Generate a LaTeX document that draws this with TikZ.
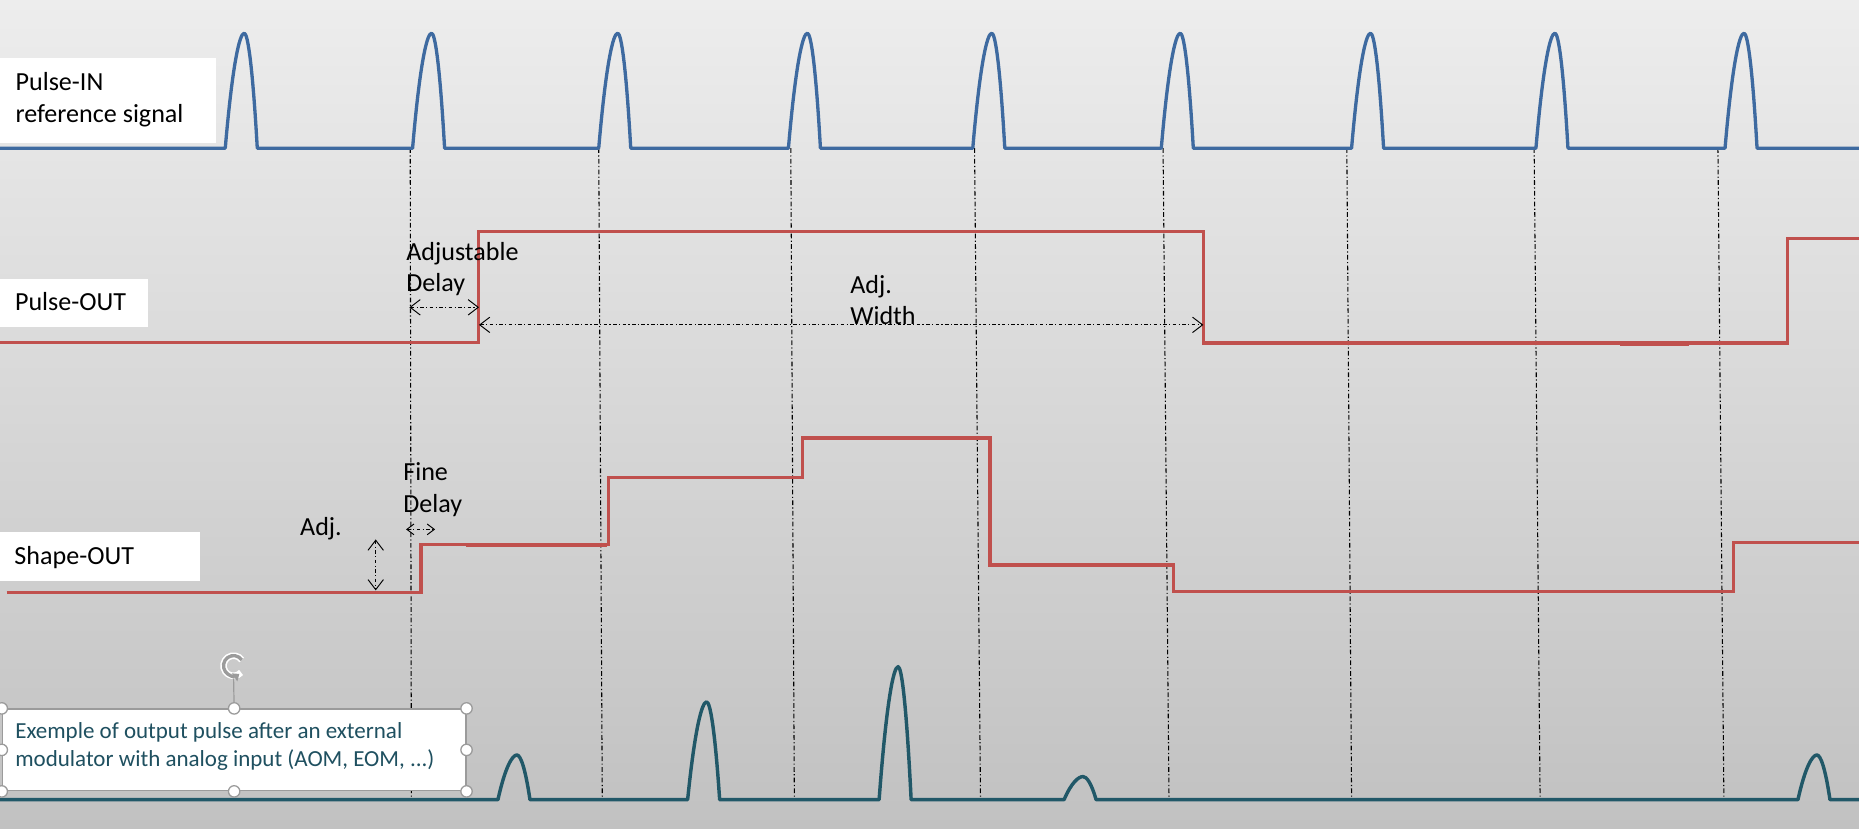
\documentclass[tikz,border=0pt]{standalone}
\usepackage{fontspec}
\setmainfont{Carlito}
\usetikzlibrary{arrows.meta}
\definecolor{bgtop}{RGB}{237,237,237}
\definecolor{bgbot}{RGB}{193,193,193}
\definecolor{sigblue}{RGB}{62,106,160}
\definecolor{sigred}{RGB}{192,80,77}
\definecolor{sigteal}{RGB}{33,88,104}
\definecolor{noteteal}{RGB}{31,80,96}
\definecolor{hgray}{RGB}{155,155,155}
\newcommand\twoln[2]{\begin{tabular}[t]{@{}l@{}}#1\\#2\end{tabular}}
\begin{document}
\begin{tikzpicture}[x=1pt,y=-1pt,
  lbl/.style={font=\fontsize{22}{26.5}\selectfont, inner sep=0pt, anchor=base west, text=black},
  notelbl/.style={font=\fontsize{19.4}{24}\selectfont, inner sep=0pt, anchor=base west, text=noteteal},
  guide/.style={black, line width=0.9pt, dash pattern=on 4pt off 2pt on 1pt off 2pt},
  dimarrow/.style={black, line width=0.8pt, dash pattern=on 3pt off 2pt on 1pt off 2pt,
     {Straight Barb[length=8.5pt,width=13pt]}-{Straight Barb[length=8.5pt,width=13pt]}},
  smallarrow/.style={black, line width=0.8pt, dash pattern=on 3pt off 2pt on 1pt off 2pt,
     {Straight Barb[length=6pt,width=9pt]}-{Straight Barb[length=6pt,width=9pt]}},
  sigin/.style={sigblue, line width=2.8pt, line join=round},
  sigout/.style={sigred, line width=2.8pt, line join=miter},
  sigmod/.style={sigteal, line width=2.9pt, line join=round},
  handle/.style={fill=white, draw=hgray, line width=1.1pt},
]
\useasboundingbox (0,0) rectangle (1568,699);
\shade[top color=bgtop, bottom color=bgbot] (0,0) rectangle (1568,699);

% guide lines
\foreach \a/\b in {346/347, 505/508, 667/670, 822/827, 981/986, 1136/1140, 1294/1299, 1449/1454}
  \draw[guide] (\a,125) -- (\b,672);

% label boxes
\fill[white] (0,49) rectangle (182,121);
\fill[white] (0,235.5) rectangle (125,275.5);
\fill[white] (0,449) rectangle (168.5,490);

\node[lbl] (inlabel) at (13,76.5) {\twoln{Pulse-IN}{reference signal}};
\node[lbl] (outlabel) at (12.5,262.3) {Pulse-OUT};
\node[lbl] (shapelabel) at (12,476.5) {Shape-OUT};

% Pulse-IN signal
\draw[sigin] (0,125)
  \foreach \s in {190,348,505,665,820.5,979.5,1140,1295.5,1455} {
    -- (\s,125) .. controls ({\s+6},55) and ({\s+12},28) .. ({\s+16},28)
    .. controls ({\s+19},28) and ({\s+23},55) .. ({\s+27},125) }
  -- (1568,125);

% Pulse-OUT signal
\draw[sigout] (0,289) -- (403.5,289) -- (403.5,195) -- (1015,195) -- (1015,289.3)
  -- (1507.5,289.3) -- (1507.5,201) -- (1568,201);
\draw[sigred, line width=2.8pt] (1366,290.2) -- (1425,290.2);

% Shape-OUT signal
\draw[sigout] (5.5,500) -- (355,500) -- (355,459.5) -- (513,459.5) -- (513,403)
  -- (677,403) -- (677,369.5) -- (835,369.5) -- (835,476.5) -- (990,476.5)
  -- (990,499) -- (1462,499) -- (1462,457.4) -- (1568,457.4);
\draw[sigred, line width=2.8pt] (393,460.2) -- (512,460.2);

% modulated output
\draw[sigmod] (0,674.5)
  \foreach \s/\p in {420/636.8, 580/592, 741.5/562.3, 897.5/655, 1516.5/636.8} {
    -- (\s,674.5) .. controls ({\s+6},{674.5-0.72*(674.5-\p)}) and ({\s+12},\p) .. ({\s+16},\p)
    .. controls ({\s+19},\p) and ({\s+23},{674.5-0.72*(674.5-\p)}) .. ({\s+27},674.5) }
  -- (1568,674.5);

% dimension texts and arrows
\node[lbl] (adjdelay) at (342.5,219.3) {\twoln{Adjustable}{Delay}};
\node[lbl] (adjwidth) at (717,247.4) {\twoln{Adj.}{Width}};
\node[lbl] (finedelay) at (340,405.4) {\twoln{Fine}{Delay}};
\node[lbl] (adjamp) at (253,452) {Adj.};

\coordinate (ad1) at (345.3,259.2);
\coordinate (ad2) at (404,259.2);
\coordinate (aw1) at (404,274);
\coordinate (aw2) at (1015,274);
\coordinate (fd1) at (342.5,446.5);
\coordinate (fd2) at (367,446.5);
\coordinate (am1) at (316.9,455);
\coordinate (am2) at (316.9,498);
\draw[dimarrow] (ad1) -- (ad2);
\draw[dimarrow] (aw1) -- (aw2);
\draw[smallarrow] (fd1) -- (fd2);
\draw[dimarrow] (am1) -- (am2);

% note box with selection handles
\node[draw=hgray, line width=1pt, fill=white, minimum width=391pt, minimum height=69pt,
  anchor=north west, inner sep=0pt] (notebox) at (1.5,597.5) {};
\node[notelbl] (note) at (12.7,622.5) {\twoln{Exemple of output pulse after an external}{modulator with analog input (AOM, EOM, ...)}};
\coordinate (rotc) at (197,561.5);
\draw[hgray, line width=1pt] (197,571) -- (notebox.north);
\draw[white, line width=5.5pt] (rotc) ++(-35:8.5) arc[start angle=-35, end angle=-318, radius=8.5];
\draw[hgray, line width=2.8pt, -{Triangle[length=5pt,width=8pt]}] (rotc) ++(-35:8.5) arc[start angle=-35, end angle=-305, radius=8.5];
\foreach \p in {notebox.north west, notebox.north, notebox.north east, notebox.west,
  notebox.east, notebox.south west, notebox.south, notebox.south east}
  \draw[handle] (\p) circle[radius=4.8pt];
\end{tikzpicture}
\end{document}
